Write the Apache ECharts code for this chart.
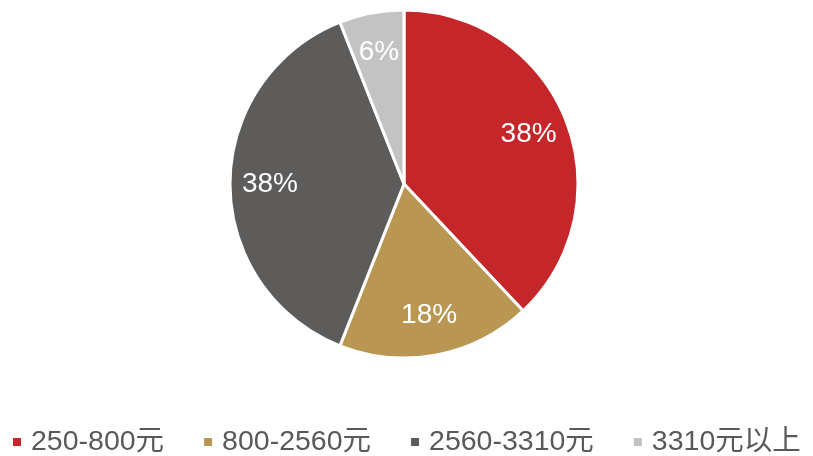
<!DOCTYPE html>
<html><head><meta charset="utf-8">
<script src="https://cdn.jsdelivr.net/npm/echarts@6/dist/echarts.min.js"></script>
<style>html,body{margin:0;padding:0;background:#fff}#c{width:813px;height:456px}</style>
</head><body><div id="c"></div>
<script>
const categories = ['250-800元', '800-2560元', '2560-3310元', '3310元以上'];
const values = [38, 18, 38, 6];
const colors = ['#C4262A', '#B99752', '#5E5C5A', '#C3C3C3'];

const data = categories.map((n, i) => ({name: n, value: values[i], itemStyle: {color: colors[i]}}));
const chart = echarts.init(document.getElementById('c'));
chart.setOption({
  animation: false,
  legend: {
    top: 427, left: 11, width: 900, padding: 0,
    itemWidth: 10, itemHeight: 10, itemGap: 38,
    icon: 'rect',
    textStyle: {fontFamily: 'Liberation Sans, Arial, Noto Sans CJK SC', fontSize: 28.5, lineHeight: 30, color: '#595959', padding: [0,0,0,4]},
    data: categories
  },
  series: [{
    type: 'pie', center: [404, 184], radius: [0, 174], startAngle: 90,
    label: {show: false}, labelLine: {show: false},
    itemStyle: {borderColor: '#fff', borderWidth: 3},
    emphasis: {disabled: true},
    data: data
  }, {
    type: 'pie', center: [404, 184], radius: [106, 156], startAngle: 90,
    silent: true,
    label: {show: true, position: 'inside', formatter: p => p.value + '%', color: '#fff',
      fontSize: 28, fontFamily: 'Liberation Sans, Arial, sans-serif'},
    labelLine: {show: false},
    itemStyle: {color: 'rgba(0,0,0,0)'},
    emphasis: {disabled: true},
    data: categories.map((n, i) => ({name: n, value: values[i]}))
  }]
});
</script></body></html>
